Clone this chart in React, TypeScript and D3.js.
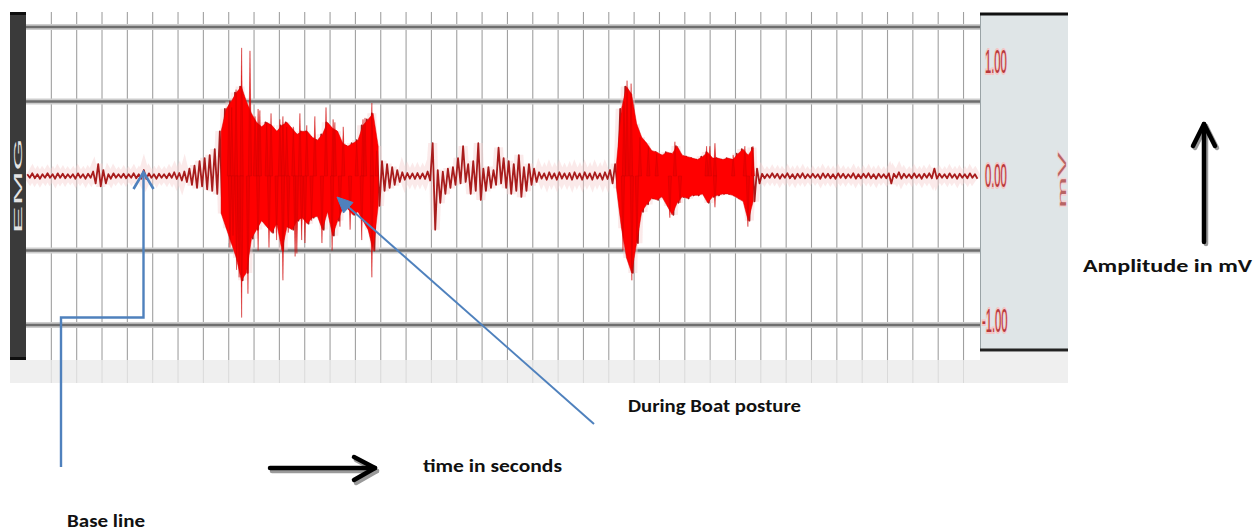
import React from "react";
import * as d3 from "d3";

// ---------- data ----------
const BIN_SECONDS = 0.2; // envelope sampling of the EMG trace
const DURATION = 37.65; // seconds shown across the plot

// upper / lower envelope of the EMG trace per 0.2 s bin (mV)
const upperMv = [
  0.012, 0.018, 0.012, 0.012, 0.018, 0.012, 0.018, 0.015, 0.012, 0.012,
  0.018, 0.012, 0.015, 0.03, 0.08, 0.04, 0.012, 0.018, 0.012, 0.015,
  0.012, 0.018, 0.012, 0.04, 0.018, 0.012, 0.015, 0.012, 0.018, 0.025,
  0.02, 0.03, 0.05, 0.07,
  0.1, 0.12, 0.14, 0.18,
  0.3, 0.45, 0.5, 0.56, 0.6, 0.5, 0.42, 0.36, 0.33, 0.36,
  0.34, 0.3, 0.34, 0.36, 0.32, 0.28, 0.3, 0.3, 0.26, 0.24,
  0.28, 0.36, 0.32, 0.3, 0.22, 0.2, 0.22, 0.24, 0.34, 0.38,
  0.42, 0.2,
  0.1, 0.08, 0.06, 0.04, 0.025, 0.02, 0.018, 0.02, 0.018, 0.03,
  0.22, 0.04, 0.03, 0.05, 0.06, 0.12, 0.2, 0.08, 0.1, 0.22,
  0.05, 0.06, 0.04, 0.19, 0.12, 0.1, 0.08, 0.14, 0.06, 0.08, 0.05,
  0.025, 0.018, 0.025, 0.018, 0.025, 0.018, 0.02, 0.025, 0.018, 0.025,
  0.018, 0.025, 0.018, 0.025, 0.04,
  0.08, 0.45, 0.6, 0.55, 0.35, 0.26, 0.22, 0.17, 0.16, 0.14,
  0.16, 0.15, 0.2, 0.14, 0.13, 0.12, 0.11, 0.13, 0.16, 0.12,
  0.12, 0.11, 0.12, 0.11, 0.15, 0.18, 0.14, 0.19, 0.05,
  0.015, 0.012, 0.018, 0.015, 0.012, 0.018, 0.012, 0.015, 0.018, 0.012,
  0.015, 0.012, 0.018, 0.015, 0.012, 0.018, 0.015, 0.012, 0.018, 0.012,
  0.015, 0.018, 0.012, 0.015, 0.012, 0.018, 0.015, 0.025, 0.015, 0.012,
  0.018, 0.012, 0.015, 0.018, 0.05, 0.015, 0.012, 0.018, 0.012, 0.015,
  0.012, 0.018, 0.012,
];
const lowerMv = [
  -0.012, -0.015, -0.018, -0.012, -0.012, -0.018, -0.012, -0.015, -0.012, -0.018,
  -0.012, -0.018, -0.012, -0.05, -0.07, -0.05, -0.018, -0.012, -0.012, -0.015,
  -0.012, -0.015, -0.018, -0.02, -0.012, -0.018, -0.012, -0.015, -0.012, -0.02,
  -0.03, -0.04, -0.06, -0.08,
  -0.07, -0.09, -0.1, -0.12,
  -0.25, -0.35, -0.45, -0.55, -0.7, -0.65, -0.42, -0.36, -0.3, -0.34,
  -0.38, -0.32, -0.5, -0.34, -0.36, -0.3, -0.28, -0.32, -0.28, -0.27,
  -0.36, -0.24, -0.4, -0.3, -0.22, -0.22, -0.26, -0.24, -0.3, -0.36,
  -0.5, -0.2,
  -0.1, -0.08, -0.06, -0.04, -0.025, -0.018, -0.02, -0.018, -0.02, -0.03,
  -0.36, -0.18, -0.12, -0.08, -0.06, -0.05, -0.04, -0.12, -0.1, -0.16,
  -0.1, -0.08, -0.06, -0.05, -0.08, -0.12, -0.1, -0.14, -0.1, -0.06, -0.04,
  -0.018, -0.025, -0.018, -0.025, -0.018, -0.02, -0.025, -0.018, -0.025, -0.018,
  -0.025, -0.018, -0.025, -0.02, -0.05,
  -0.08, -0.35, -0.55, -0.65, -0.45, -0.24, -0.19, -0.15, -0.16, -0.14,
  -0.2, -0.26, -0.18, -0.14, -0.15, -0.13, -0.13, -0.12, -0.18, -0.14,
  -0.13, -0.12, -0.12, -0.13, -0.15, -0.17, -0.3, -0.17, -0.05,
  -0.015, -0.012, -0.012, -0.018, -0.012, -0.015, -0.018, -0.012, -0.015, -0.012,
  -0.012, -0.018, -0.012, -0.015, -0.018, -0.012, -0.015, -0.012, -0.018, -0.015,
  -0.012, -0.015, -0.018, -0.012, -0.015, -0.05, -0.012, -0.018, -0.012, -0.015,
  -0.012, -0.018, -0.012, -0.015, -0.018, -0.012, -0.015, -0.012, -0.018, -0.012,
  -0.015, -0.012, -0.018,
];

// muscle bursts (s): first activity burst and the boat-posture burst
const burstWindows: [number, number][] = [
  [7.6, 14.0],
  [23.25, 28.85],
];

// isolated narrow spikes (time s, peak mV)
const spikeTimes = [
  // burst 1, upward
  8.01, 8.12, 8.29, 8.51, 8.84, 9.04, 9.16, 9.23, 9.5, 9.67, 10.02, 10.14, 10.29, 10.55,
  10.81, 11.08, 11.4, 11.84, 12.12, 12.19, 12.52, 13.05, 13.3, 13.38, 13.65, 13.84,
  // burst 1, downward
  8.05, 8.17, 8.31, 8.41, 8.51, 8.76, 9.16, 9.59, 9.89, 10.14, 10.35, 10.62, 10.69,
  10.88, 11.01, 11.27, 11.68, 12.08, 12.39, 12.79, 13.25, 13.65,
  // burst 2, upward
  23.6, 23.72, 23.88, 24.23, 24.56, 24.89, 25.61, 26.86, 26.99, 27.19, 27.91, 28.37, 28.69,
  // burst 2, downward
  23.56, 23.91, 24.11, 25.41, 25.81, 27.19, 28.49,
];
const spikeMv = [
  0.48, 0.46, 0.58, 0.86, 0.84, 0.4, 0.45, 0.44, 0.36, 0.42, 0.38, 0.4, 0.33, 0.33,
  0.42, 0.34, 0.4, 0.46, 0.38, 0.36, 0.33, 0.24, 0.38, 0.39, 0.49, 0.17,
  -0.48, -0.4, -0.63, -0.68, -0.95, -0.79, -0.5, -0.48, -0.43, -0.7, -0.38, -0.54, -0.52,
  -0.43, -0.45, -0.3, -0.45, -0.5, -0.34, -0.36, -0.43, -0.68,
  0.5, 0.64, 0.62, 0.26, 0.2, 0.15, 0.23, 0.2, 0.2, 0.22, 0.14, 0.2, 0.2,
  -0.5, -0.7, -0.45, -0.28, -0.18, -0.21, -0.34,
];

const gridMv = [1, 0.5, -0.5, -1];
const tickMv = [1, 0, -1];
const tickLabels = ["1.00", "0.00", "-1.00"];
const channelLabel = "EMG";
const unitLabel = "mV";
const amplitudeText = "Amplitude in mV";
const timeText = "time in seconds";
const boatText = "During Boat posture";
const baseText = "Base line";

type Sample = { t: number; u: number; l: number };

export default function App() {
  const W = 1256;
  const H = 531;
  const x = d3.scaleLinear().domain([0, DURATION]).range([26, 980]);
  const y = d3.scaleLinear().domain([-1, 1]).range([325, 27]);

  const samples: Sample[] = upperMv.map((u, i) => ({
    t: (i + 0.5) * BIN_SECONDS,
    u,
    l: lowerMv[i],
  }));
  const inBurst = (t: number) => burstWindows.some(([a, b]) => t >= a && t <= b);

  const burstArea = d3
    .area<Sample>()
    .defined((d) => inBurst(d.t))
    .x((d) => x(d.t))
    .y0((d) => y(d.l))
    .y1((d) => y(d.u))(samples) as string;

  const zigzagPts: [number, number][] = samples.flatMap((d) => [
    [x(d.t - BIN_SECONDS / 4), y(d.u)] as [number, number],
    [x(d.t + BIN_SECONDS / 4), y(d.l)] as [number, number],
  ]);
  const zigzag = d3.line()(zigzagPts) as string;

  const seconds = d3.range(1, Math.floor(DURATION) + 1);
  const labelNudge = [34, -1, -5];
  const blue = "#4f81bd";
  const font = "Carlito, Lato, 'Open Sans', sans-serif";

  return (
    <svg
      width={W}
      height={H}
      viewBox={`0 0 ${W} ${H}`}
      style={{ position: "absolute", left: 0, top: 0, background: "#fff" }}
    >
      {/* bottom grey strip */}
      <rect x={10} y={352} width={1058} height={31} fill="#efefef" />
      {/* plot white area */}
      <rect x={26} y={12} width={954} height={348} fill="#ffffff" />

      {/* vertical grid (one per second) */}
      {seconds.map((s) => (
        <g key={s}>
          <line x1={x(s)} x2={x(s)} y1={12} y2={360} stroke="#a0a0a0" strokeWidth={1.1} />
          <line x1={x(s)} x2={x(s)} y1={360} y2={383} stroke="#dadada" strokeWidth={1} />
        </g>
      ))}

      {/* horizontal grid */}
      {gridMv.map((v) => (
        <g key={v}>
          <line x1={26} x2={980} y1={y(v)} y2={y(v)} stroke="#cdcdcd" strokeWidth={6} />
          <line x1={26} x2={980} y1={y(v)} y2={y(v)} stroke="#6e6e6e" strokeWidth={2.4} />
        </g>
      ))}

      {/* EMG trace */}
      <path d={zigzag} fill="none" stroke="#f6d0d0" strokeWidth={9} opacity={0.45} />
      <path d={zigzag} fill="none" stroke="#a81c1c" strokeWidth={1.8} strokeLinejoin="round" />
      <path d={burstArea} fill="#ff0000" stroke="#d80000" strokeWidth={0.5} />
      {spikeTimes.map((t, i) => {
        const sx = x(t);
        const v = spikeMv[i];
        return (
          <path
            key={i}
            d={`M${sx - 1.6},${y(0)} L${sx},${y(v)} L${sx + 1.6},${y(0)} Z`}
            fill="#f00000"
            stroke="#c80000"
            strokeWidth={0.4}
          />
        );
      })}

      {/* left channel bar */}
      <rect x={10} y={12} width={16} height={348} fill="#3a3a3a" />
      <rect x={10} y={12} width={16} height={3} fill="#0e0e0e" />
      <rect x={10} y={357} width={16} height={3} fill="#0e0e0e" />
      <text
        transform={`translate(18,186) rotate(-90) scale(4.2,1)`}
        textAnchor="middle"
        dominantBaseline="central"
        fontFamily="'Liberation Sans', Arial, sans-serif"
        fontSize={10}
        fill="#e4e4e4"
      >
        {channelLabel}
      </text>

      {/* right scale panel */}
      <rect x={980} y={13} width={88} height={338} fill="#dfe5e7" />
      <line x1={980.5} x2={980.5} y1={13} y2={351} stroke="#9aa3a6" strokeWidth={1} />
      <line x1={980} x2={1068} y1={14} y2={14} stroke="#111" strokeWidth={3} />
      <line x1={980} x2={1068} y1={350} y2={350} stroke="#222" strokeWidth={3} />
      {tickMv.map((v, i) => (
        <text
          key={v}
          transform={`translate(${v < 0 ? 982 : 985},${y(v) + labelNudge[i]}) scale(0.33,1)`}
          dominantBaseline="central"
          fontFamily="'Liberation Sans', Arial, sans-serif"
          fontSize={34}
          fill="#b8383a"
          stroke="#f5c4c4"
          strokeWidth={4}
          paintOrder="stroke"
        >
          {tickLabels[i]}
        </text>
      ))}
      <text
        transform={`translate(1062,180) rotate(-90) scale(3.4,1)`}
        textAnchor="middle"
        dominantBaseline="central"
        fontFamily="'Liberation Sans', Arial, sans-serif"
        fontSize={11}
        fill="#b86464"
        stroke="#f3d2d2"
        strokeWidth={1}
        paintOrder="stroke"
      >
        {unitLabel}
      </text>

      {/* amplitude arrow */}
      <g stroke="#9a9a9a" strokeWidth={4.5} fill="none" strokeLinecap="round" strokeLinejoin="round" transform="translate(2,2)">
        <line x1={1204} x2={1204} y1={242} y2={124} />
        <path d="M1193,146 L1204,124 L1215,146" />
      </g>
      <g stroke="#000" strokeWidth={4.5} fill="none" strokeLinecap="round" strokeLinejoin="round">
        <line x1={1204} x2={1204} y1={242} y2={124} />
        <path d="M1193,146 L1204,124 L1215,146" />
      </g>
      <text x={1083} y={272} fontFamily={font} fontWeight={700} fontSize={19} textLength={169} lengthAdjust="spacingAndGlyphs" fill="#111">
        {amplitudeText}
      </text>

      {/* time arrow */}
      <g stroke="#9a9a9a" strokeWidth={4.5} fill="none" strokeLinecap="round" strokeLinejoin="round" transform="translate(2,3)">
        <line x1={270} x2={375} y1={468} y2={468} />
        <path d="M354,457 L375,468 L354,480" />
      </g>
      <g stroke="#000" strokeWidth={4.5} fill="none" strokeLinecap="round" strokeLinejoin="round">
        <line x1={270} x2={375} y1={468} y2={468} />
        <path d="M354,457 L375,468 L354,480" />
      </g>
      <text x={423} y={472} fontFamily={font} fontWeight={700} fontSize={19} textLength={139} lengthAdjust="spacingAndGlyphs" fill="#111">
        {timeText}
      </text>

      {/* boat posture pointer */}
      <line x1={594} y1={424} x2={345} y2={204} stroke={blue} strokeWidth={2} />
      <path d="M337,197 L353,202.5 L343.5,213 Z" fill={blue} stroke={blue} strokeWidth={1} strokeLinejoin="round" />
      <text x={628} y={412} fontFamily={font} fontWeight={700} fontSize={19} textLength={173} lengthAdjust="spacingAndGlyphs" fill="#111">
        {boatText}
      </text>

      {/* base line pointer */}
      <polyline
        points="61,467 61,317.5 143.5,317.5 143.5,173"
        fill="none"
        stroke={blue}
        strokeWidth={2.4}
      />
      <path d="M133.5,189 L143.5,172 L153.5,189" fill="none" stroke={blue} strokeWidth={2.6} strokeLinejoin="miter" />
      <text x={67} y={527} fontFamily={font} fontWeight={700} fontSize={19} textLength={78} lengthAdjust="spacingAndGlyphs" fill="#111">
        {baseText}
      </text>
    </svg>
  );
}
